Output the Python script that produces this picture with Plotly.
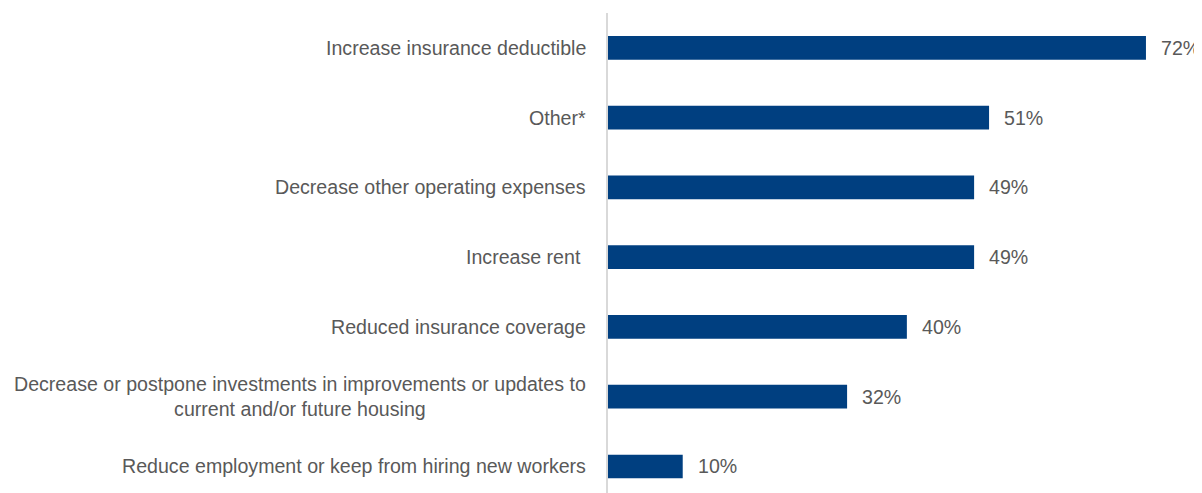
import plotly.graph_objects as go

categories = [
    "Increase insurance deductible",
    "Other*",
    "Decrease other operating expenses",
    "Increase rent ",
    "Reduced insurance coverage",
    "Decrease or postpone investments in improvements or updates to<br>current and/or future housing",
    "Reduce employment or keep from hiring new workers",
]
values = [72, 51, 49, 49, 40, 32, 10]
value_labels = ["72%", "51%", "49%", "49%", "40%", "32%", "10%"]

FONT = "Liberation Sans, Arial, sans-serif"
FS = 19.6
BAR = "#003F80"
TXT = "#595959"

fig = go.Figure()
fig.add_trace(go.Bar(
    x=values, y=categories, orientation="h",
    marker=dict(color=BAR, line=dict(width=0)),
    width=0.34,
    hoverinfo="skip",
))
for v, c, t in zip(values, categories, value_labels):
    fig.add_annotation(x=v, y=c, text=t, showarrow=False, xanchor="left",
                       xshift=13, font=dict(family=FONT, size=FS, color=TXT))
for c in categories:
    fig.add_annotation(x=0, xref="paper", y=c, text=c, showarrow=False,
                       xanchor="right", align="center", xshift=-20,
                       font=dict(family=FONT, size=FS, color=TXT))

# page body has an 8px default margin, so the figure is offset by 8px
fig.update_layout(
    width=1194, height=485,
    margin=dict(l=600, r=0, t=5, b=0, autoexpand=False),
    paper_bgcolor="white", plot_bgcolor="white",
    showlegend=False,
    font=dict(family=FONT, size=FS, color=TXT),
    xaxis=dict(range=[0, 79.5], visible=False, showgrid=False, zeroline=False,
               automargin=False),
    yaxis=dict(range=[6.38, -0.5], showgrid=False, zeroline=False,
               showline=True, linecolor="#D9D9D9", linewidth=2,
               ticks="", showticklabels=False, automargin=False),
)
fig.write_html("out.html")
